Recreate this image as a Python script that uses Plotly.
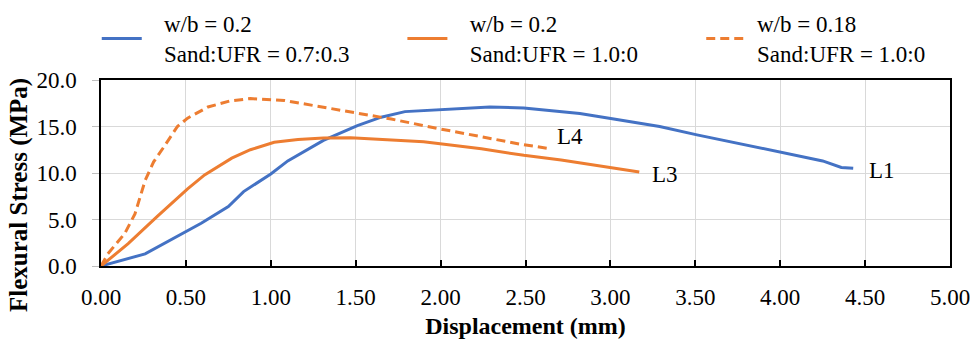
import plotly.graph_objects as go

# L1: w/b = 0.2, Sand:UFR = 0.7:0.3
l1_x = [0.00, 0.26, 0.59, 0.75, 0.84, 1.00, 1.10, 1.31, 1.51, 1.65, 1.79, 2.00, 2.29, 2.49, 2.82, 3.02, 3.29, 3.51, 4.00, 4.25, 4.36, 4.43]
l1_y = [0.0, 1.3, 4.6, 6.4, 8.0, 9.9, 11.3, 13.5, 15.1, 16.0, 16.6, 16.8, 17.1, 17.0, 16.4, 15.8, 15.0, 14.1, 12.3, 11.3, 10.6, 10.5]

# L3: w/b = 0.2, Sand:UFR = 1.0:0
l3_x = [0.00, 0.16, 0.33, 0.51, 0.61, 0.77, 0.88, 1.02, 1.16, 1.31, 1.47, 1.71, 1.90, 2.24, 2.49, 2.71, 3.17]
l3_y = [0.0, 2.4, 5.3, 8.3, 9.8, 11.6, 12.5, 13.3, 13.6, 13.75, 13.8, 13.55, 13.35, 12.6, 11.9, 11.4, 10.1]

# L4: w/b = 0.18, Sand:UFR = 1.0:0
l4_x = [0.00, 0.04, 0.14, 0.20, 0.26, 0.31, 0.37, 0.45, 0.51, 0.63, 0.76, 0.88, 1.08, 1.27, 1.51, 1.71, 1.98, 2.24, 2.47, 2.65]
l4_y = [0.0, 1.3, 3.5, 5.6, 9.2, 11.2, 12.8, 15.0, 15.9, 17.1, 17.75, 18.0, 17.8, 17.2, 16.5, 15.8, 14.8, 13.9, 13.1, 12.6]

legend_line1 = ["w/b = 0.2", "w/b = 0.2", "w/b = 0.18"]
legend_line2 = ["Sand:UFR = 0.7:0.3", "Sand:UFR = 1.0:0", "Sand:UFR = 1.0:0"]

labels = ["L1", "L3", "L4"]
label_x = [4.60, 3.32, 2.76]
label_y = [10.3, 9.8, 13.9]

x_ticks = [0, 0.5, 1, 1.5, 2, 2.5, 3, 3.5, 4, 4.5, 5]
y_ticks = [0, 5, 10, 15, 20]

BLUE = "#4472C4"
ORANGE = "#ED7D31"
FONT = "Liberation Serif"

# per-legend layout (each series has its own legend box)
legend_x = [-0.005, 0.355, 0.707]
legend_pad = [3, 3, 1]


def legend_name(i):
    pad = "\u00a0" * legend_pad[i]
    return pad + legend_line1[i] + "<br>" + pad + legend_line2[i]


fig = go.Figure()
fig.add_trace(go.Scatter(x=l1_x, y=l1_y, mode="lines", name=legend_name(0),
                         legend="legend",
                         line=dict(color=BLUE, width=3)))
fig.add_trace(go.Scatter(x=l3_x, y=l3_y, mode="lines", name=legend_name(1),
                         legend="legend2",
                         line=dict(color=ORANGE, width=3)))
fig.add_trace(go.Scatter(x=l4_x, y=l4_y, mode="lines", name=legend_name(2),
                         legend="legend3",
                         line=dict(color=ORANGE, width=3, dash="9px,5px")))

for t, lx, ly in zip(labels, label_x, label_y):
    fig.add_annotation(x=lx, y=ly, text=t, showarrow=False,
                       font=dict(family=FONT, size=23, color="black"),
                       xanchor="center", yanchor="middle")

fig.add_annotation(xref="paper", yref="paper", x=-0.0965, y=0.382,
                   text="<b>Flexural Stress (MPa)</b>", textangle=-90,
                   showarrow=False, xanchor="center", yanchor="middle",
                   font=dict(family=FONT, size=25, color="black"))

legend_common = dict(orientation="h", xanchor="left",
                     yref="container", y=0.994, yanchor="top",
                     itemwidth=40,
                     font=dict(family=FONT, size=23, color="black"),
                     bgcolor="rgba(0,0,0,0)")

fig.update_layout(
    width=972, height=339,
    margin=dict(l=101, r=22, t=80, b=73),
    paper_bgcolor="white", plot_bgcolor="white",
    font=dict(family=FONT, size=23, color="black"),
    showlegend=True,
    legend=dict(x=legend_x[0], **legend_common),
    legend2=dict(x=legend_x[1], **legend_common),
    legend3=dict(x=legend_x[2], **legend_common),
    xaxis=dict(range=[0, 5], tickvals=x_ticks, tickformat=".2f",
               showgrid=True, gridcolor="#D9D9D9", gridwidth=1,
               showline=True, linecolor="black", linewidth=2, mirror=True,
               ticks="inside", ticklen=6, tickcolor="black", tickwidth=1.5,
               ticklabelstandoff=9, zeroline=False, automargin=False,
               title=dict(text="<b>Displacement (mm)</b>", standoff=9,
                          font=dict(family=FONT, size=24))),
    yaxis=dict(range=[0, 20], tickvals=y_ticks, tickformat=".1f",
               showgrid=True, gridcolor="#D9D9D9", gridwidth=1,
               showline=True, linecolor="black", linewidth=1.5, mirror=True,
               ticks="outside", ticklen=7, tickcolor="#BFBFBF", tickwidth=1,
               ticklabelstandoff=11, zeroline=False, automargin=False),
)

fig.write_html("out.html")
